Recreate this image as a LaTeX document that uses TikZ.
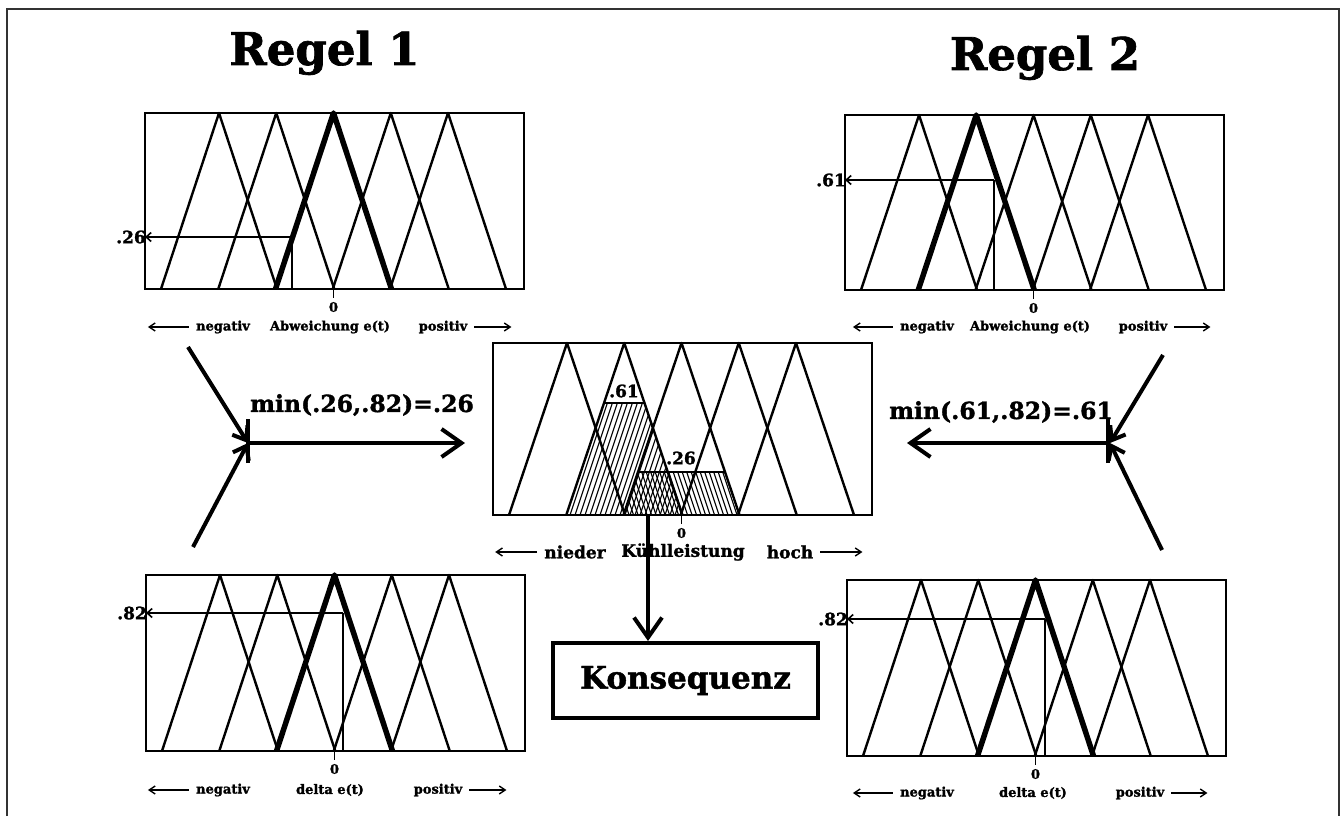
\documentclass[tikz,border=0pt]{standalone}
\usepackage{fontspec}
\setmainfont{DejaVu Serif}[BoldFeatures={FakeBold=1.5}]
\usetikzlibrary{arrows.meta,calc}
\tikzset{
  frame/.style={line width=1.8pt,draw=black!80},
  title/.style={font=\bfseries\fontsize{45}{50}\selectfont,anchor=base,inner sep=0pt},
  panel/.style={draw,line width=2pt,minimum width=379pt,anchor=north west,inner sep=0pt,outer sep=0pt},
  tri/.style={line width=2.4pt,line join=round},
  boldtri/.style={line width=5.5pt,line join=round},
  leader/.style={line width=1.8pt},
  leadarrow/.style={line width=1.6pt,-{Straight Barb[length=5pt,width=9pt]}},
  axisarrow/.style={line width=1.4pt,-{Straight Barb[length=6pt,width=8pt]}},
  small/.style={font=\bfseries\fontsize{13}{13}\selectfont,inner sep=0pt},
  mid/.style={font=\bfseries\fontsize{17}{17}\selectfont,inner sep=0pt},
  zero/.style={font=\bfseries\fontsize{13}{13}\selectfont,inner sep=0pt},
  lvl/.style={font=\bfseries\fontsize{17}{17}\selectfont,inner sep=0pt},
  minlabel/.style={font=\bfseries\fontsize{23.5}{23.5}\selectfont,inner sep=0pt},
  bigarrow/.style={line width=4pt,-{Straight Barb[length=20pt,width=28pt]}},
  diagarrow/.style={line width=4pt,-{Straight Barb[length=12pt,width=18pt]}},
  bar/.style={line width=4pt},
  hatch/.style={line width=1.1pt},
  konsbox/.style={draw,line width=4pt,minimum width=265pt,minimum height=75pt,inner sep=0pt,font=\bfseries\fontsize{31}{31}\selectfont},
}
% #1 panel name, #2 height, #3 bold index (-1 none)
\newcommand\fzpanel[3]{%
  \begin{scope}[shift={(#1.south west)}]
    \foreach \i in {0,...,4}{%
      \draw[tri] ({16+\i*57.25},0) -- ({74+\i*57.25},-#2) -- ({132+\i*57.25},0);}
    \ifnum#3>-1
      \draw[boldtri] ({16+#3*57.25},0) -- ({74+#3*57.25},-#2) -- ({132+#3*57.25},0);
    \fi
    \draw[line width=1.6pt] (188.5,0) -- (188.5,9);
    \node[zero] (#1-zero) at (188.5,18) {0};
  \end{scope}}
% #1 panel, #2 relx, #3 rely, #4 label
\newcommand\fzleader[4]{%
  \begin{scope}[shift={(#1.south west)}]
    \coordinate (#1-p) at (#2,#3);
    \coordinate (#1-b) at (#2,0);
  \end{scope}
  \draw[leader] (#1-b) -- (#1-p);
  \draw[leadarrow] (#1-p) -- (#1-p -| #1.west);
  \node[lvl,anchor=east] (#1-lvl) at ([xshift=1pt]#1-p -| #1.west) {#4};}
\begin{document}
\begin{tikzpicture}[x=1pt,y=-1pt]
\useasboundingbox (0,0) rectangle (1343,816);
\draw[frame] (7,816) -- (7,9) -- (1339,9) -- (1339,816);

\node[title] (r1) at (324.5,65) {Regel 1};
\node[title] (r2) at (1045,70) {Regel 2};

% panels
\node[panel,minimum height=176pt] (tl) at (145,113) {};
\node[panel,minimum height=175pt] (tr) at (845,115) {};
\node[panel,minimum height=172pt] (ct) at (493,343) {};
\node[panel,minimum height=176pt] (bl) at (146,575) {};
\node[panel,minimum height=176pt] (br) at (847,580) {};

% hatching in centre (drawn before the triangles)
\begin{scope}
  \clip (567,515) -- (604,403) -- (644,403) -- (681,515) -- cycle;
  \foreach \k in {0,...,32}{\draw[hatch] ({535+\k*5},515) -- ++(40,-120);}
\end{scope}
\begin{scope}
  \clip (624,515) -- (638,472) -- (724,472) -- (738,515) -- cycle;
  \foreach \k in {0,...,32}{\draw[hatch] ({620+\k*4.5},515) -- ++(-15,-45);}
\end{scope}
\draw[line width=2.4pt] (604,403) -- (644,403);
\draw[line width=2.4pt] (638,472) -- (724,472);

\fzpanel{tl}{176}{2}
\fzpanel{tr}{175}{1}
\fzpanel{ct}{172}{-1}
\fzpanel{bl}{176}{2}
\fzpanel{br}{176}{2}

\node[lvl] (c61) at (624,391) {.61};
\node[lvl] (c26) at (681,458) {.26};

\fzleader{tl}{147}{-52}{.26}
\fzleader{tr}{149}{-110}{.61}
\fzleader{bl}{197}{-138}{.82}
\fzleader{br}{198}{-137}{.82}

% axis label rows
\node[small] (tl-neg) at (223,327) {negativ};
\node[small] (tl-mid) at (330,327) {Abweichung e(t)};
\node[small] (tl-pos) at (443,327) {positiv};
\draw[axisarrow] ([xshift=-7pt]tl-neg.west) -- ++(-41,0);
\draw[axisarrow] ([xshift=7pt]tl-pos.east) -- ++(37,0);

\node[small] (tr-neg) at (927,327) {negativ};
\node[small] (tr-mid) at (1030,327) {Abweichung e(t)};
\node[small] (tr-pos) at (1143,327) {positiv};
\draw[axisarrow] ([xshift=-7pt]tr-neg.west) -- ++(-40,0);
\draw[axisarrow] ([xshift=7pt]tr-pos.east) -- ++(36,0);

\node[small] (bl-neg) at (223,790) {negativ};
\node[small] (bl-mid) at (330,790) {delta e(t)};
\node[small] (bl-pos) at (438,790) {positiv};
\draw[axisarrow] ([xshift=-7pt]bl-neg.west) -- ++(-41,0);
\draw[axisarrow] ([xshift=7pt]bl-pos.east) -- ++(37,0);

\node[small] (br-neg) at (927,793) {negativ};
\node[small] (br-mid) at (1033,793) {delta e(t)};
\node[small] (br-pos) at (1140,793) {positiv};
\draw[axisarrow] ([xshift=-7pt]br-neg.west) -- ++(-40,0);
\draw[axisarrow] ([xshift=7pt]br-pos.east) -- ++(36,0);

\node[mid] (ct-neg) at (575,552) {nieder};
\node[mid] (ct-mid) at (683,552) {Kühlleistung};
\node[mid] (ct-pos) at (790,552) {hoch};
\draw[axisarrow] ([xshift=-7pt]ct-neg.west) -- ++(-42,0);
\draw[axisarrow] ([xshift=7pt]ct-pos.east) -- ++(42,0);

% left junction
\coordinate (j1) at (248,443);
\coordinate (j1a) at (188,347);
\coordinate (j1b) at (193,547);
\coordinate (j1e) at (465,443);
\draw[diagarrow] (j1a) -- (j1);
\draw[diagarrow] (j1b) -- (j1);
\draw[bar] ([yshift=-20pt]j1) -- ([yshift=24pt]j1);
\draw[bigarrow] (j1) -- (j1e);
\node[minlabel] (m1) at (362,405) {min(.26,.82)=.26};

% right junction
\coordinate (j2) at (1110,443);
\coordinate (j2a) at (1163,355);
\coordinate (j2b) at (1162,550);
\coordinate (j2e) at (907,443);
\draw[diagarrow] (j2a) -- (j2);
\draw[diagarrow] (j2b) -- (j2);
\draw[bar] ([xshift=-2pt,yshift=-20pt]j2) -- ([xshift=-2pt,yshift=24pt]j2);
\draw[bigarrow] (j2) -- (j2e);
\node[minlabel] (m2) at (1001,412) {min(.61,.82)=.61};

% consequence
\node[konsbox] (kons) at (685.5,680.5) {Konsequenz};
\coordinate (ka) at (648,515);
\draw[bigarrow] (ka) -- (ka |- kons.north);
\end{tikzpicture}
\end{document}
